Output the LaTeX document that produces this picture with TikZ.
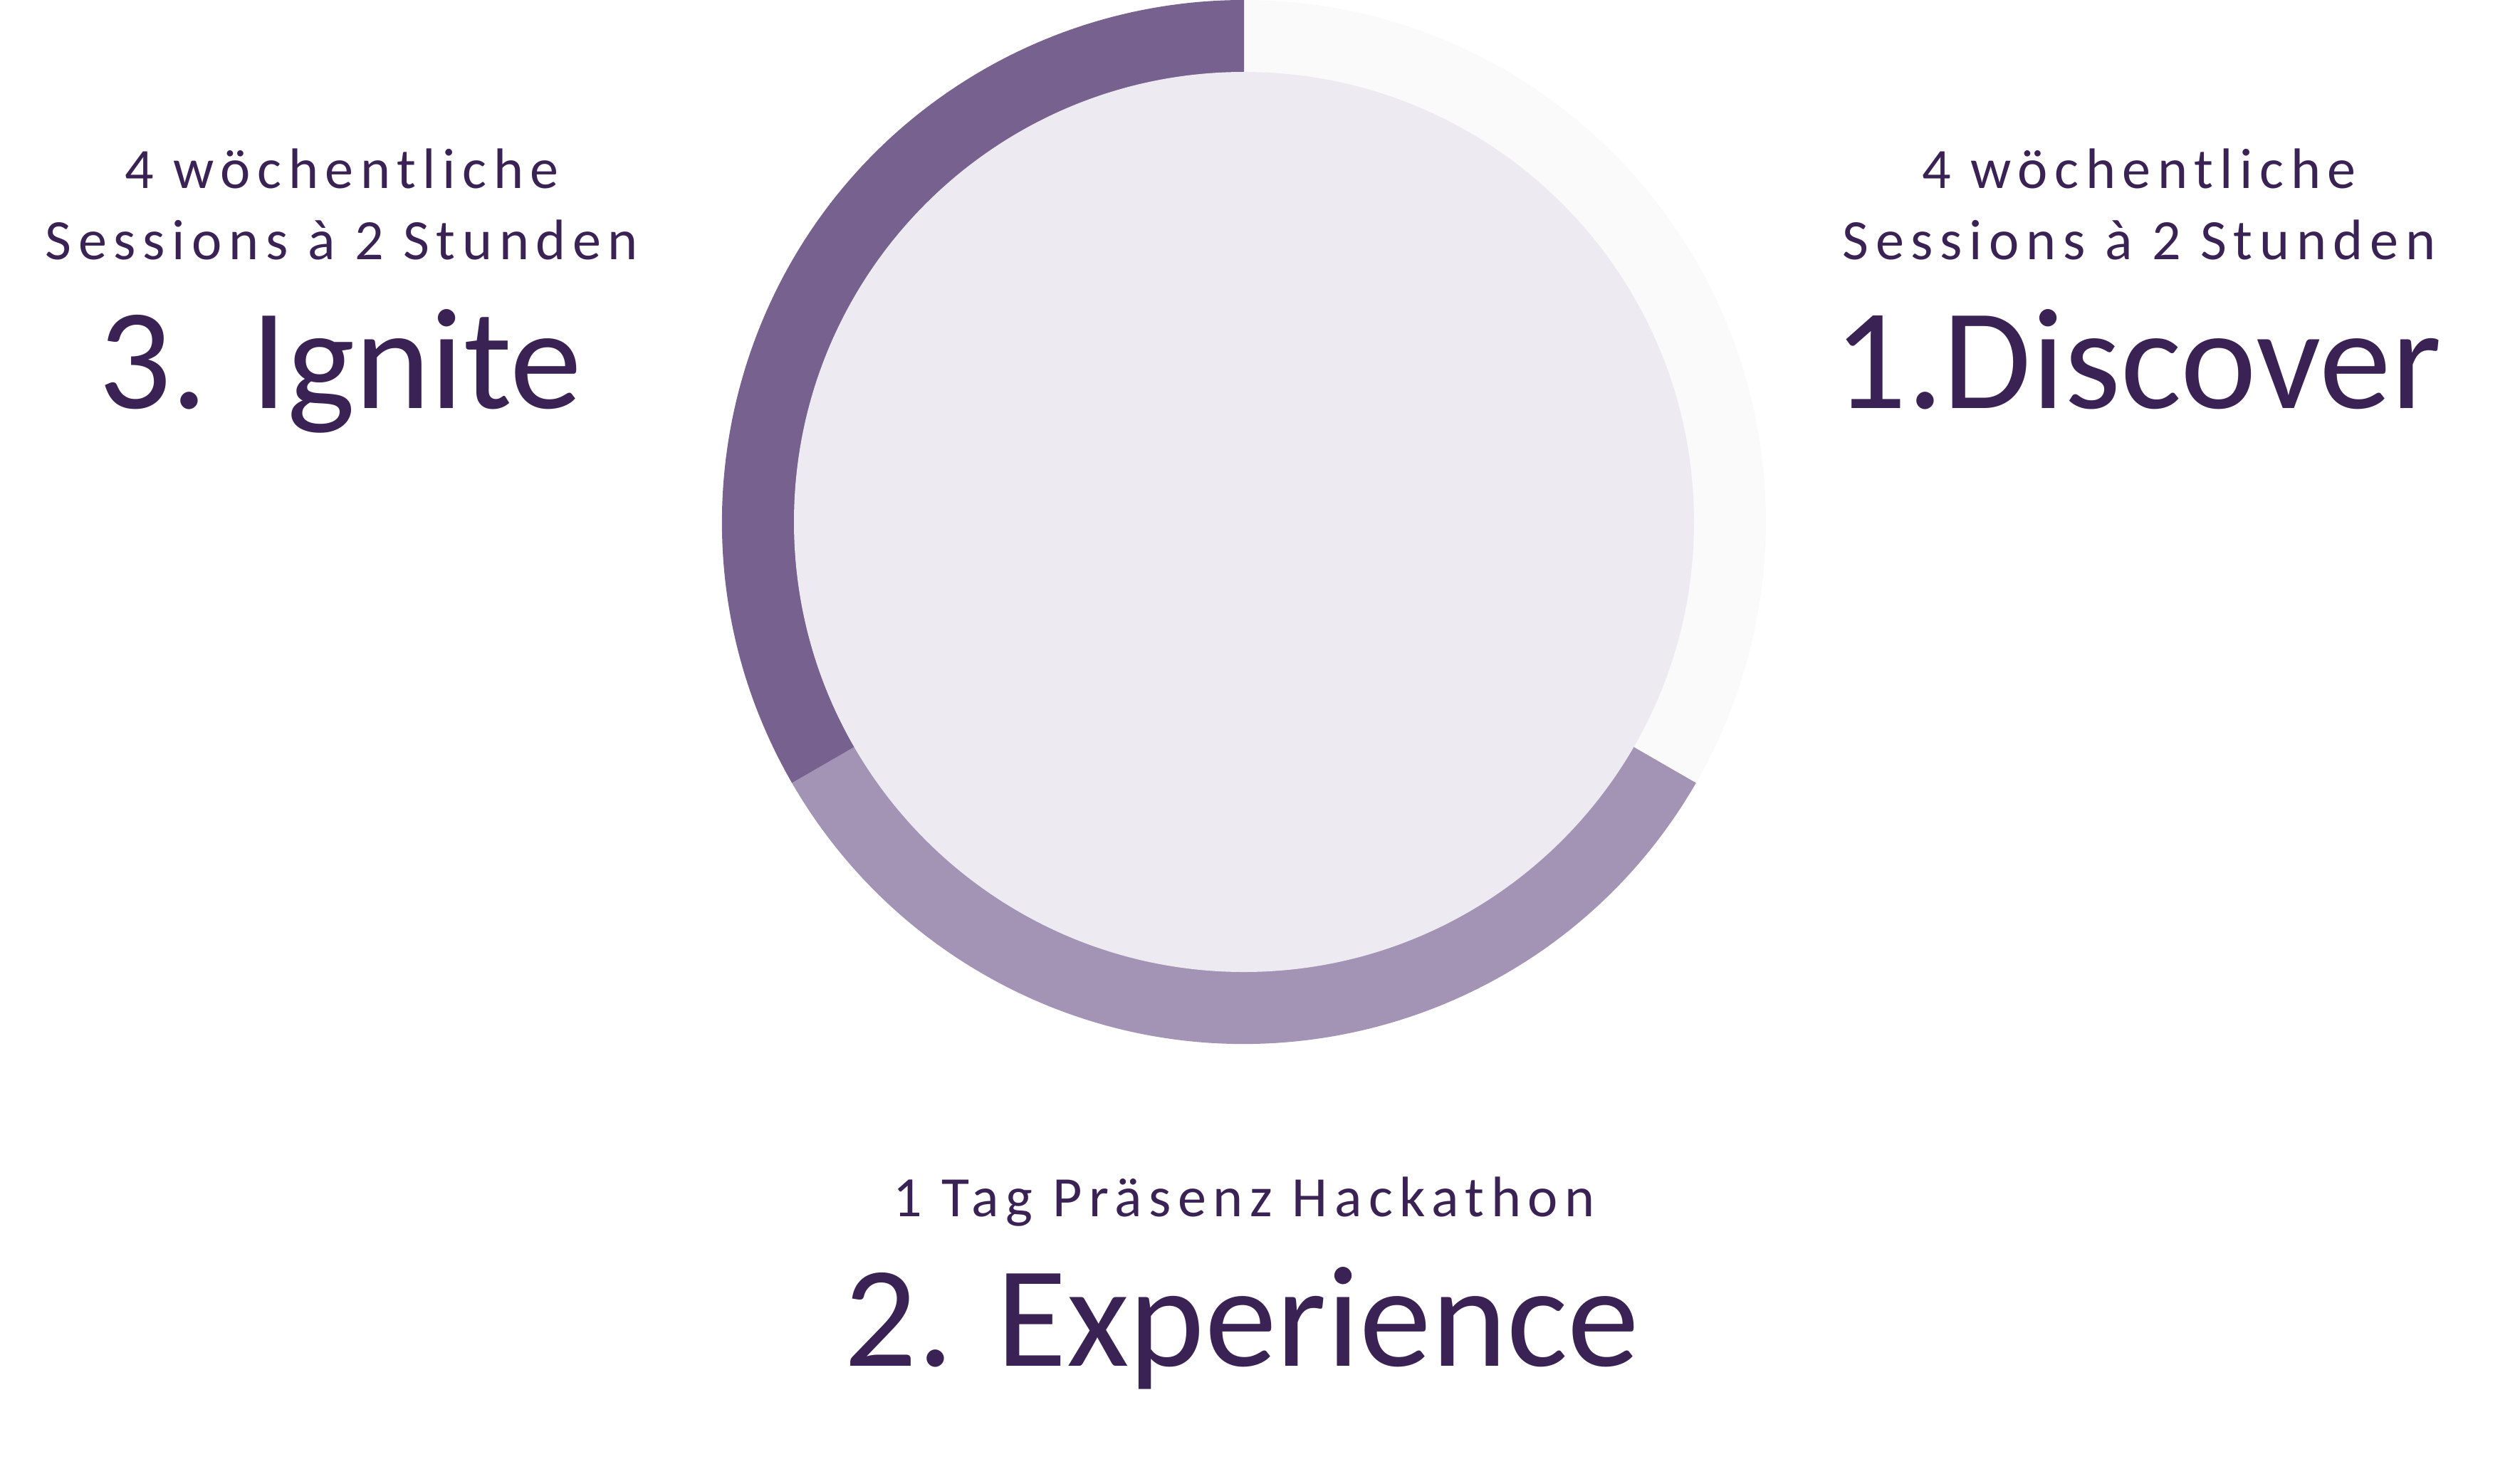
\documentclass[tikz,border=0pt]{standalone}
\usepackage{fontspec}
\setmainfont{Carlito}
\newfontfamily\spacedfont[LetterSpace=12]{Carlito}
\usetikzlibrary{calc}

\definecolor{textpurple}{HTML}{3A2254}
\definecolor{ignitepurple}{HTML}{77618F}
\definecolor{experiencepurple}{HTML}{A394B5}
\definecolor{discovergray}{HTML}{FAFAFA}
\definecolor{innerfill}{HTML}{EDEBF1}

\tikzset{
  subtitle/.style={text=textpurple, inner sep=0pt, anchor=base,
    font=\spacedfont\fontsize{22.8}{26}\selectfont},
  phase/.style={text=textpurple, inner sep=0pt, anchor=base,
    font=\fontsize{57.5}{62}\selectfont},
}

\begin{document}
\begin{tikzpicture}
\useasboundingbox (0,0) rectangle (35.39,-20.70);
\coordinate (c) at (17.47,-7.33);
% ring
\fill[discovergray] (c) -- ++(90:7.33) arc[start angle=90, end angle=-30, radius=7.33] -- cycle;
\fill[experiencepurple] (c) -- ++(-30:7.33) arc[start angle=-30, end angle=-150, radius=7.33] -- cycle;
\fill[ignitepurple] (c) -- ++(210:7.33) arc[start angle=210, end angle=90, radius=7.33] -- cycle;
\fill[innerfill] (c) circle[radius=6.32];
% labels
\node[subtitle] (ignitea) at (4.80,-2.65) {4 wöchentliche};
\node[subtitle] (igniteb) at (4.80,-3.64) {Sessions à 2 Stunden};
\node[phase] (ignite) at (4.78,-5.73) {3. Ignite};
\node[subtitle] (discovera) at (30.04,-2.65) {4 wöchentliche};
\node[subtitle] (discoverb) at (30.04,-3.64) {Sessions à 2 Stunden};
\node[phase] (discover) at (30.02,-5.73) {1.Discover};
\node[subtitle] (experiencea) at (17.47,-17.08) {1 Tag Präsenz Hackathon};
\node[phase] (experience) at (17.44,-19.18) {2. Experience};
\end{tikzpicture}
\end{document}
